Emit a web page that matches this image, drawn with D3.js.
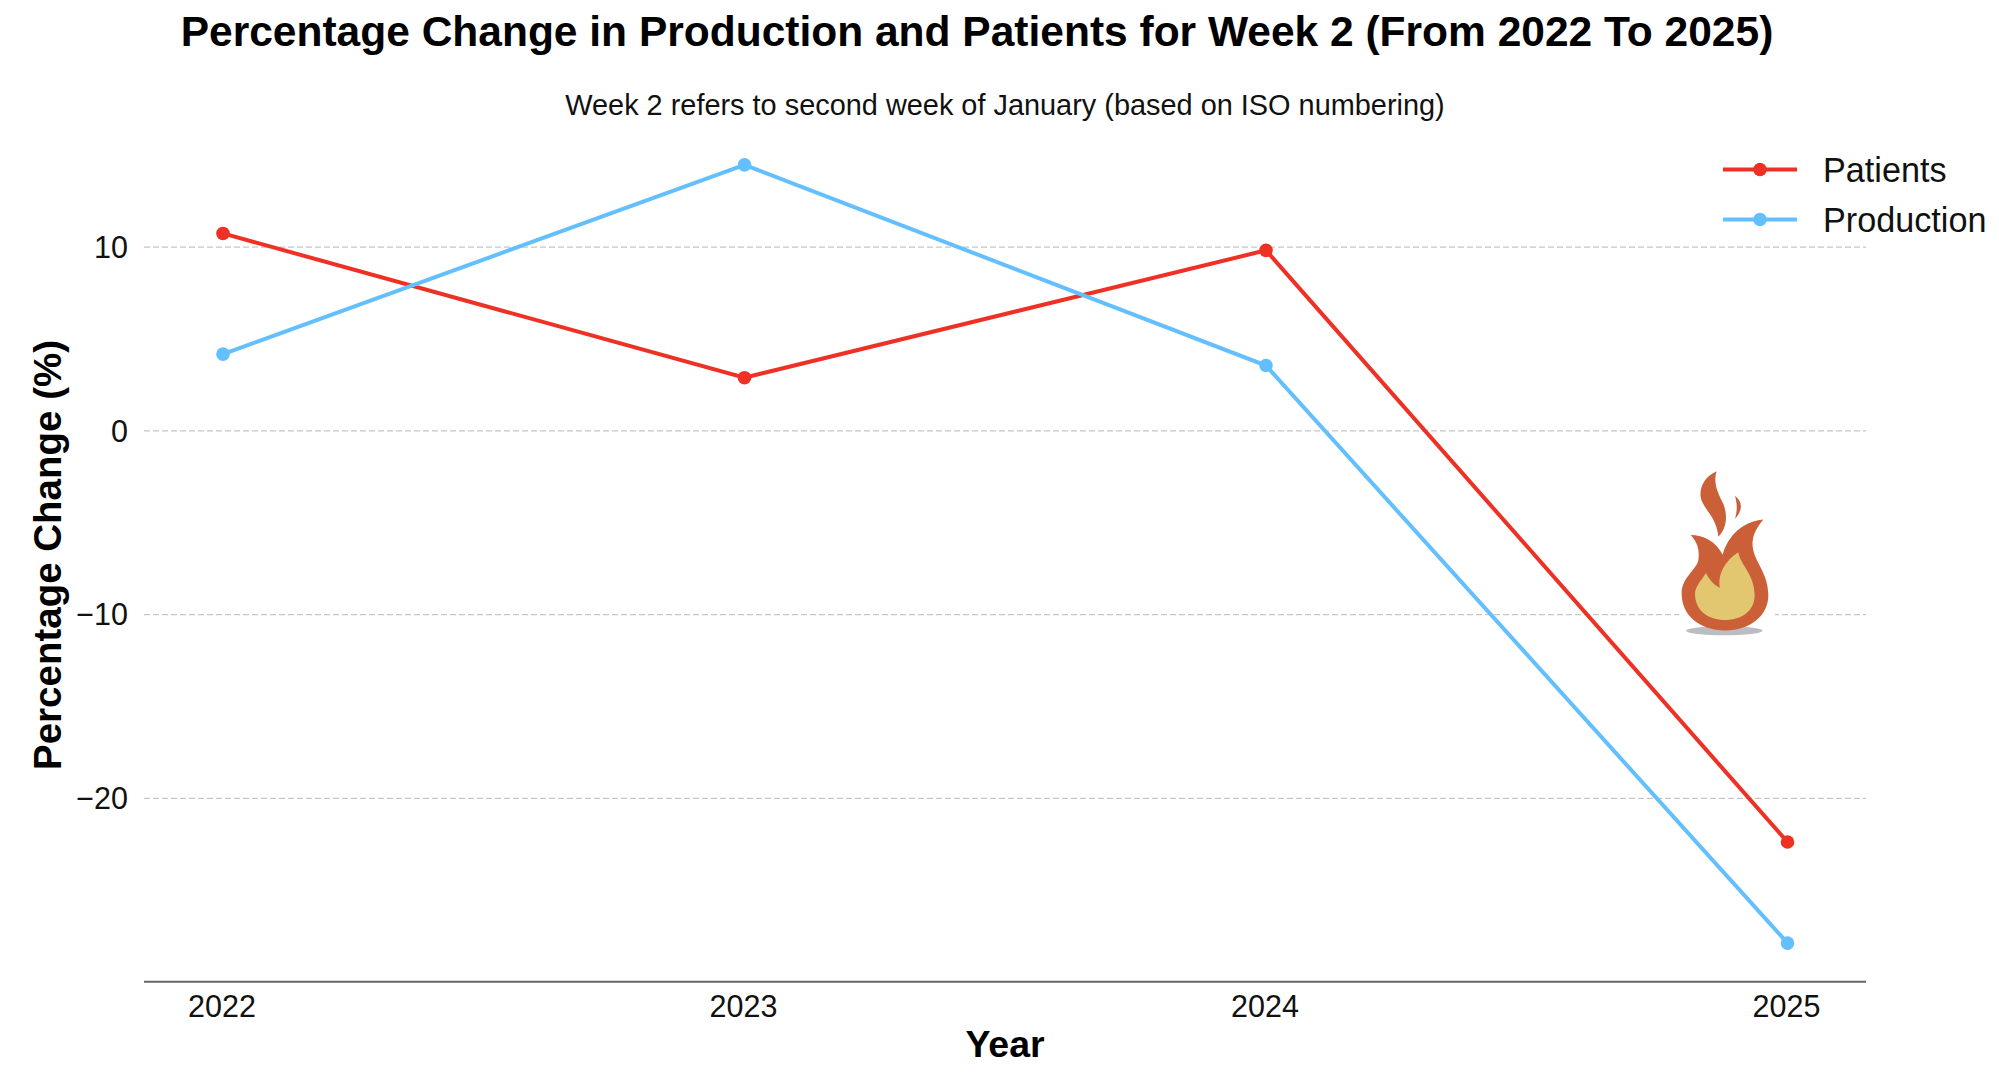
<!DOCTYPE html>
<html><head><meta charset="utf-8">
<script src="https://cdn.jsdelivr.net/npm/d3@7"></script>
<style>
html,body{margin:0;padding:0;background:#fff;overflow:hidden}
text{font-family:"Liberation Sans",Arial,sans-serif;fill:#111}
</style></head><body>
<script>
const years = [2022, 2023, 2024, 2025];
const patients = [10.72, 2.87, 9.8, -22.4];
const production = [4.15, 14.45, 3.53, -27.9];
const yTicks = [10, 0, -10, -20];
const seriesNames = ["Patients", "Production"];
const seriesColors = ["#ee3124", "#64bfff"];
const titleText = "Percentage Change in Production and Patients for Week 2 (From 2022 To 2025)";
const subtitleText = "Week 2 refers to second week of January (based on ISO numbering)";

const W = 1999, H = 1075;
const plotLeft = 144, plotRight = 1866, plotBottom = 981.7;
const svg = d3.select("body").append("svg").attr("width", W).attr("height", H);

const x = d3.scaleLinear().domain([2022, 2025]).range([223, 1787.5]);
const y = d3.scaleLinear().domain([-30, 16]).range([plotBottom, 136.4]);

// grid + y axis
const gy = svg.append("g").attr("transform", `translate(${plotLeft},0)`)
  .call(d3.axisLeft(y).tickValues(yTicks).tickSize(-(plotRight - plotLeft)).tickFormat(d => d3.format("d")(d).replace("-", "\u2212")));
gy.select(".domain").remove();
gy.selectAll(".tick line").attr("stroke", "#c6c6c6").attr("stroke-width", 1.3).attr("stroke-dasharray", "6,3");
gy.selectAll(".tick text").attr("x", -16).style("font-size", "30.5px").attr("dy", "0.35em");

// x axis
const gx = svg.append("g").attr("transform", `translate(0,${plotBottom})`)
  .call(d3.axisBottom(x).tickValues(years).tickSize(0).tickFormat(d3.format("d")));
gx.select(".domain").attr("d", `M${plotLeft},0H${plotRight}`).attr("stroke", "#666").attr("stroke-width", 2);
gx.selectAll(".tick text").attr("x", -1.5).attr("y", 13.5).attr("dy", "0.71em").style("font-size", "30.5px");

// flame picture (decorative)
const flame = svg.append("g").attr("transform", "translate(1600,120) scale(0.3333,0.3444)");
flame.append("rect").attr("x", 238).attr("y", 1005).attr("width", 287).attr("height", 500).attr("fill", "#fff");
flame.append("ellipse").attr("cx", 373).attr("cy", 1483).attr("rx", 115).attr("ry", 13).attr("fill", "#babdc2");
flame.append("path").attr("fill", "#cb5f38").attr("d",
 "M375,1482C300,1482 245,1440 245,1375C245,1330 285,1310 295,1280C300,1250 292,1225 272,1205C310,1205 350,1225 368,1262C385,1205 430,1165 490,1160C465,1190 452,1215 460,1250C470,1290 505,1320 505,1380C505,1440 450,1482 375,1482Z");
flame.append("path").attr("fill", "#e2c770").attr("d",
 "M318,1315C325,1330 340,1350 360,1358C352,1320 375,1280 415,1255C420,1290 464,1320 464,1380C464,1425 425,1452 375,1452C325,1452 285,1425 285,1375C285,1355 305,1335 318,1315Z");
flame.append("path").attr("fill", "#cb5f38").attr("d",
 "M350,1020C315,1035 298,1065 302,1095C308,1130 350,1150 355,1210C382,1185 385,1140 365,1105C350,1075 340,1050 350,1020Z");
flame.append("path").attr("fill", "#cb5f38").attr("d",
 "M405,1092C425,1105 432,1130 405,1158C412,1135 412,1115 405,1092Z");

// series
const line = d3.line().x(d => x(d.year)).y(d => y(d.value));
[patients, production].forEach((vals, i) => {
  const pts = years.map((yr, j) => ({year: yr, value: vals[j]}));
  svg.append("path").datum(pts).attr("fill", "none").attr("stroke", seriesColors[i]).attr("stroke-width", 4).attr("d", line);
  svg.selectAll(null).data(pts).enter().append("circle")
    .attr("cx", d => x(d.year)).attr("cy", d => y(d.value)).attr("r", 6.8).attr("fill", seriesColors[i]);
});

// legend
const lg = d3.scalePoint().domain(seriesNames).range([169.5, 219.5]);
seriesNames.forEach((n, i) => {
  const ly = lg(n);
  svg.append("line").attr("x1", 1723).attr("x2", 1797).attr("y1", ly).attr("y2", ly).attr("stroke", seriesColors[i]).attr("stroke-width", 4);
  svg.append("circle").attr("cx", 1760).attr("cy", ly).attr("r", 6.8).attr("fill", seriesColors[i]);
  svg.append("text").attr("x", 1823).attr("y", ly).attr("dy", "0.36em").style("font-size", "34.2px").text(n);
});

// titles
svg.append("text").attr("x", 977).attr("y", 31).attr("text-anchor", "middle").attr("dy", "0.36em")
  .style("font-size", "42.5px").style("font-weight", "bold").style("fill", "#000").text(titleText);
svg.append("text").attr("x", 1005).attr("y", 105).attr("text-anchor", "middle").attr("dy", "0.36em")
  .style("font-size", "28.9px").text(subtitleText);
svg.append("text").attr("x", 1005).attr("y", 1043).attr("text-anchor", "middle").attr("dy", "0.36em")
  .style("font-size", "37.5px").style("font-weight", "bold").style("fill", "#000").text("Year");
svg.append("text").attr("transform", "translate(47,555) rotate(-90)").attr("text-anchor", "middle").attr("dy", "0.36em")
  .style("font-size", "38.5px").style("font-weight", "bold").style("fill", "#000").text("Percentage Change (%)");
</script>
</body></html>
